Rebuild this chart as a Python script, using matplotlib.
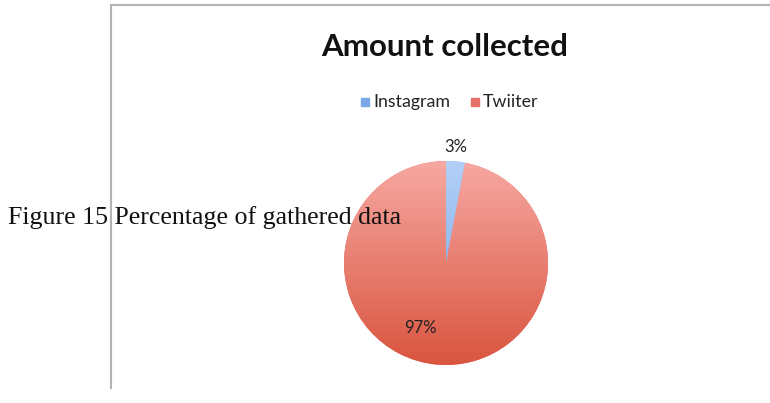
import numpy as np
import matplotlib
matplotlib.use("Agg")
import matplotlib.pyplot as plt
from matplotlib.colors import LinearSegmentedColormap
from matplotlib.lines import Line2D
from matplotlib.patches import Rectangle

# ---- data ----
categories = ["Instagram", "Twiiter"]
values = [3, 97]
pct_labels = ["3%", "97%"]
title = "Amount collected"
caption = "Figure 15 Percentage of gathered data"

top_colors = ["#b3d0f7", "#f7a8a2"]
bottom_colors = ["#6f9fe0", "#d9553f"]
legend_colors = ["#7aa8e6", "#e8706a"]

W, H = 770, 403
fig = plt.figure(figsize=(W / 100, H / 100), dpi=100)
fig.patch.set_facecolor("white")

# chart frame (left and top border)
fig.add_artist(Line2D([111 / W, 111 / W], [1 - 5 / H, 1 - 388 / H], color="#b4b4b4", lw=1.5))
fig.add_artist(Line2D([111 / W, 1.0], [1 - 5 / H, 1 - 5 / H], color="#b4b4b4", lw=1.5))

# title
fig.text(445 / W, 1 - 47 / H, title, ha="center", va="center", fontsize=22.5,
         fontweight="bold", family="Lato", color="#111111")

# legend
leg_y = 1 - 102 / H
fig.add_artist(Rectangle((361 / W, leg_y - 4 / H), 8 / W, 8 / H, color=legend_colors[0], transform=fig.transFigure))
fig.text(373 / W, leg_y, categories[0], ha="left", va="center", fontsize=12.8, family="Lato", color="#222222")
fig.add_artist(Rectangle((471 / W, leg_y - 4 / H), 8 / W, 8 / H, color=legend_colors[1], transform=fig.transFigure))
fig.text(483 / W, leg_y, categories[1], ha="left", va="center", fontsize=12.8, family="Lato", color="#222222")

# pie
cx, cy, r = 446, 263, 102
ax = fig.add_axes([(cx - r) / W, (H - cy - r) / H, 2 * r / W, 2 * r / H])
wedges, _ = ax.pie(values, startangle=90, counterclock=False, radius=1,
                   colors=legend_colors, wedgeprops=dict(linewidth=0))
ax.set_xlim(-1, 1)
ax.set_ylim(-1, 1)
ax.set_aspect("auto")
ax.axis("off")

grad = np.linspace(1, 0, 256).reshape(-1, 1)
for w, tc, bc in zip(wedges, top_colors, bottom_colors):
    cmap = LinearSegmentedColormap.from_list("g", [bc, tc])
    im = ax.imshow(grad, cmap=cmap, extent=(-1, 1, -1, 1), origin="upper",
                   aspect="auto", zorder=w.get_zorder() + 0.1, vmin=0, vmax=1)
    im.set_clip_path(w)

# percentage labels
label_pos = [(0.10, 1.14), (-0.25, -0.64)]
for (lx, ly), t in zip(label_pos, pct_labels):
    ax.text(lx, ly, t, ha="center", va="center", fontsize=12, family="Lato",
            color="#222222", zorder=10, clip_on=False)

# caption overlay (serif)
fig.text(8 / W, 1 - 224 / H, caption, ha="left", va="baseline", fontsize=18.6,
         family="Liberation Serif", color="#111111", zorder=20)

fig.savefig("out.png", dpi=100, facecolor="white")
